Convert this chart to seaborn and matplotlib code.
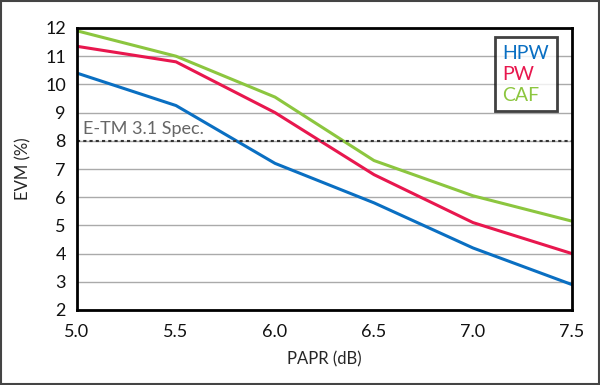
import pandas as pd
import numpy as np
import matplotlib.pyplot as plt
import seaborn as sns

papr = [5.0, 5.5, 6.0, 6.5, 7.0, 7.5]
hpw = [10.4, 9.25, 7.2, 5.8, 4.2, 2.9]
pw = [11.35, 10.8, 9.0, 6.8, 5.1, 4.0]
caf = [11.9, 11.0, 9.55, 7.3, 6.05, 5.15]
series_names = ['HPW', 'PW', 'CAF']
colors = ['#0a6fc2', '#e8174e', '#8cc63f']
spec_level = 8

df = pd.DataFrame({'PAPR': papr * 3,
                   'EVM': hpw + pw + caf,
                   'method': [n for n in series_names for _ in papr]})

sns.set_theme(style='white')
plt.rcParams['font.family'] = ['Lato', 'DejaVu Sans']

fig = plt.figure(figsize=(6, 3.85), dpi=100)
ax = fig.add_axes([77/600, 1 - 310/385, (572-77)/600, (310-28)/385])

sns.lineplot(data=df, x='PAPR', y='EVM', hue='method', palette=colors,
             linewidth=2.2, ax=ax, legend=False)

ax.axhline(spec_level, color='#333333', linestyle=(0, (1.5, 1.5)), linewidth=1.5)
ax.text(5.03, spec_level + 0.12, 'E-TM 3.1 Spec.', color='#666666', fontsize=13,
        va='bottom', ha='left')

ax.set_xlim(5.0, 7.5)
ax.set_ylim(2, 12)
ax.set_xticks(papr)
ax.set_xticklabels(['%.1f' % v for v in papr])
ax.set_yticks(range(2, 13))
ax.yaxis.grid(True, color='#aaaaaa', linewidth=1)
ax.xaxis.grid(False)
ax.tick_params(axis='x', direction='in', length=7, color='#999999', width=1,
               labelsize=13, pad=10, labelcolor='#111111')
ax.tick_params(axis='y', length=0, labelsize=13, pad=8, labelcolor='#111111')
for s in ax.spines.values():
    s.set_color('black')
    s.set_linewidth(2)

ax.set_xlabel('PAPR (dB)', fontsize=12, labelpad=8)
ax.set_ylabel('EVM (%)', fontsize=12, labelpad=10)

handles = [plt.Line2D([], [], color=c, linewidth=0) for c in colors]
leg = ax.legend(handles, series_names, loc='upper right', bbox_to_anchor=(0.97, 0.968),
                borderaxespad=0, handlelength=0, handletextpad=0, labelcolor=colors,
                fontsize=14, frameon=True, fancybox=False, borderpad=0.4,
                labelspacing=0.2)
leg.get_frame().set_edgecolor('#111111')
leg.get_frame().set_linewidth(2)

fig.patches.append(plt.Rectangle((0.002, 0.003), 0.996, 0.994, transform=fig.transFigure,
                                 fill=False, edgecolor='#444444', linewidth=1.5))

fig.savefig('out.png', dpi=100)
